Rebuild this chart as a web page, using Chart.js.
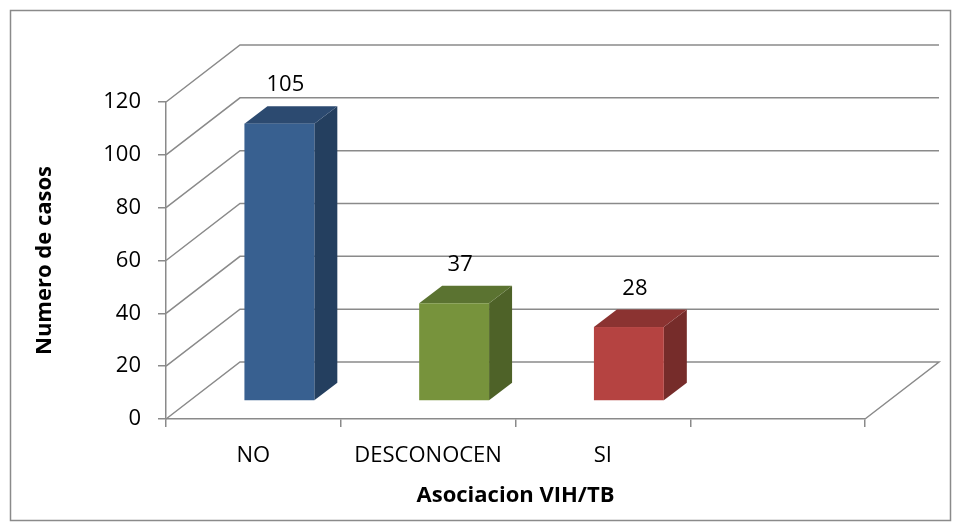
<!DOCTYPE html>
<html lang="es">
<head>
<meta charset="UTF-8">
<title>Asociacion VIH/TB</title>
<script src="https://cdn.jsdelivr.net/npm/chart.js"></script>
<style>
  html, body { margin: 0; padding: 0; background: #fff; }
</style>
</head>
<body>
<canvas id="vihChart" width="964" height="531"></canvas>
<script>
// datos
const categorias = ['NO', 'DESCONOCEN', 'SI', ''];
const casos = [105, 37, 28, null];
const yTicks = [0, 20, 40, 60, 80, 100, 120];

// colores de las barras (frente, lado, tapa)
const frente = ['#386090', '#77933c', '#b54341'];
const lado = ['#243f5f', '#4e6228', '#762c2a'];
const tapa = ['#2c4a70', '#5b7331', '#8b3331'];

const gris = '#8a8a8a';
const fuente = "'Open Sans', 'DejaVu Sans', sans-serif";

// desplazamientos del efecto 3D
const WALL_DX = 74, WALL_DY = -57;   // pared del fondo
const BAR_DX = 26, BAR_DY = -18;     // posicion del frente de la barra
const DEP_DX = 23, DEP_DY = -17.5;   // profundidad de la barra

function poly(ctx, pts, color) {
    ctx.fillStyle = color;
    ctx.beginPath();
    ctx.moveTo(pts[0][0], pts[0][1]);
    for (let i = 1; i < pts.length; i++) ctx.lineTo(pts[i][0], pts[i][1]);
    ctx.closePath();
    ctx.fill();
}

const efecto3d = {
    id: 'efecto3d',
    beforeDraw(chart) {
        const ctx = chart.ctx;
        ctx.save();
        ctx.strokeStyle = gris;
        ctx.lineWidth = 1.5;
        ctx.strokeRect(10.5, 10.5, 940, 510);
        ctx.restore();
    },
    beforeDatasetsDraw(chart) {
        const { ctx, chartArea: a, scales: { y } } = chart;
        ctx.save();
        ctx.strokeStyle = gris;
        ctx.lineWidth = 1.5;
        yTicks.forEach(v => {
            const py = y.getPixelForValue(v);
            ctx.beginPath();
            ctx.moveTo(a.left, py);
            ctx.lineTo(a.left + WALL_DX, py + WALL_DY);
            ctx.lineTo(a.right + WALL_DX, py + WALL_DY);
            if (v === 0) ctx.lineTo(a.right, py);
            ctx.stroke();
        });
        ctx.restore();
    },
    afterDatasetsDraw(chart) {
        const ctx = chart.ctx;
        const meta = chart.getDatasetMeta(0);
        ctx.save();
        meta.data.forEach((bar, i) => {
            if (casos[i] == null) return;
            const half = bar.width / 2;
            const x0 = bar.x - half + BAR_DX, x1 = bar.x + half + BAR_DX;
            const yt = bar.y + BAR_DY, yb = bar.base + BAR_DY;

            poly(ctx, [[x1, yt], [x1 + DEP_DX, yt + DEP_DY], [x1 + DEP_DX, yb + DEP_DY], [x1, yb]], lado[i]);
            poly(ctx, [[x0, yt], [x0 + DEP_DX, yt + DEP_DY], [x1 + DEP_DX, yt + DEP_DY], [x1, yt]], tapa[i]);
            ctx.fillStyle = frente[i];
            ctx.fillRect(x0, yt, x1 - x0, yb - yt);

            // etiqueta de valor
            ctx.fillStyle = '#000';
            ctx.font = '22px ' + fuente;
            ctx.textAlign = 'center';
            ctx.textBaseline = 'middle';
            ctx.fillText(String(casos[i]), bar.x + BAR_DX + 6, yt + DEP_DY - 21);
        });
        ctx.restore();
    }
};

const ctx = document.getElementById('vihChart').getContext('2d');
new Chart(ctx, {
    type: 'bar',
    data: {
        labels: categorias,
        datasets: [{
            label: 'Numero de casos',
            data: casos,
            backgroundColor: 'rgba(0,0,0,0)',
            borderWidth: 0,
            categoryPercentage: 1,
            barPercentage: 0.4
        }]
    },
    options: {
        responsive: false,
        animation: false,
        layout: { padding: { left: 32, right: 99, top: 102, bottom: 22 } },
        plugins: {
            legend: { display: false },
            tooltip: { enabled: false }
        },
        scales: {
            x: {
                afterFit(s) { s.height = 90; },
                grid: { offset: true, drawOnChartArea: false, tickLength: 8, color: gris, lineWidth: 1.5 },
                border: { color: gris, width: 1.5 },
                ticks: { color: '#000', padding: 16, font: { family: fuente, size: 22 } },
                title: {
                    display: true, text: 'Asociacion VIH/TB', color: '#000', padding: 0,
                    font: { family: fuente, size: 22, weight: 'bold' }
                }
            },
            y: {
                min: 0, max: 120,
                afterFit(s) { s.width = 134; },
                grid: { drawOnChartArea: false, tickLength: 8, color: gris, lineWidth: 1.5 },
                border: { color: gris, width: 1.5 },
                ticks: { stepSize: 20, color: '#000', padding: 17, font: { family: fuente, size: 22 } },
                title: {
                    display: true, text: 'Numero de casos', color: '#000', padding: 0,
                    font: { family: fuente, size: 22, weight: 'bold' }
                }
            }
        }
    },
    plugins: [efecto3d]
});
</script>
</body>
</html>
